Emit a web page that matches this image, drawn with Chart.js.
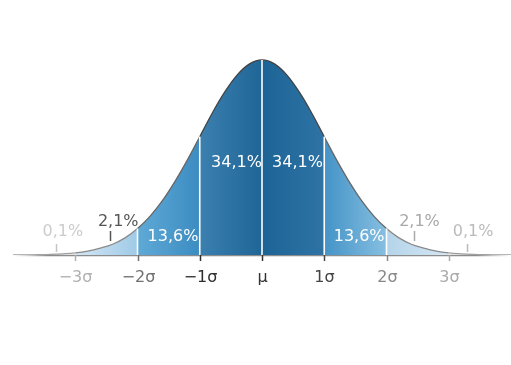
<!DOCTYPE html>
<html>
<head>
<meta charset="utf-8">
<script src="https://cdn.jsdelivr.net/npm/chart.js@4.4.1/dist/chart.umd.min.js"></script>
<style>
  html, body { margin: 0; padding: 0; background: #fff; }
</style>
</head>
<body>
<canvas id="bell" width="511" height="365"></canvas>
<script>
/* ── DATA ─────────────────────────────────────────────────── */
// x in units of sigma, curve height (density)
const sigmaX = [-4, -3.8, -3.6, -3.4, -3.2, -3, -2.8, -2.6, -2.4, -2.2, -2,
  -1.8, -1.6, -1.4, -1.2, -1, -0.8, -0.6, -0.4, -0.2, 0,
  0.2, 0.4, 0.6, 0.8, 1, 1.2, 1.4, 1.6, 1.8, 2,
  2.2, 2.4, 2.6, 2.8, 3, 3.2, 3.4, 3.6, 3.8, 4];
const density = [0.0001, 0.0003, 0.0006, 0.0012, 0.0024, 0.0044, 0.008, 0.014, 0.022, 0.035, 0.054,
  0.079, 0.111, 0.150, 0.194, 0.242, 0.290, 0.333, 0.368, 0.391, 0.399,
  0.391, 0.368, 0.333, 0.290, 0.242, 0.194, 0.150, 0.111, 0.079, 0.054,
  0.035, 0.022, 0.014, 0.008, 0.0044, 0.0024, 0.0012, 0.0006, 0.0003, 0.0001];

const dividers = [-2, -1, 0, 1, 2];
const tickValues = [-3, -2, -1, 0, 1, 2, 3];
const tickLabels = ['−3σ', '−2σ', '−1σ', 'μ', '1σ', '2σ', '3σ'];
const pctLabels = ['0,1%', '2,1%', '13,6%', '34,1%', '34,1%', '13,6%', '2,1%', '0,1%'];

/* ── LAYOUT / STYLE ───────────────────────────────────────── */
const FONT = '16px "DejaVu Sans", sans-serif';
const tickColors = ['#b0b0b0', '#707070', '#2e2e2e', '#333333', '#444444', '#888888', '#aaaaaa'];
const pctPos = [-3.2, -2.31, -1.43, -0.41, 0.57, 1.56, 2.53, 3.39];
const pctY = [232, 222, 237, 163, 163, 237, 222, 232];
const pctColors = ['#cccccc', '#555555', '#ffffff', '#ffffff', '#ffffff', '#ffffff', '#a8a8a8', '#bbbbbb'];
// little pointer marks under the outer labels: [sigma, y0, y1, colour]
const pointers = [
  [-3.31, 244, 252, '#c4c4c4'],
  [-2.44, 231, 241, '#555555'],
  [2.44, 231, 241, '#a8a8a8'],
  [3.29, 244, 252, '#bbbbbb']
];
// band fills: [colour at left edge, colour at right edge]
const bandStops = {
  '-3': ['#d4e6f3', '#9fcae7'],
  '-2': ['#5fa9d6', '#3c8cc2'],
  '-1': ['#3b80af', '#1f6596'],
  '0':  ['#1d6496', '#2e73a4'],
  '1':  ['#4493c7', '#86bfe1'],
  '2':  ['#b4d4ea', '#d6e7f3']
};
const bandLine = { '-3': '#8a8a8a', '-2': '#666', '-1': '#444', '0': '#444', '1': '#666', '2': '#8a8a8a' };

const gradCache = {};
function bandFill(chart, band) {
  const stops = bandStops[band];
  if (!stops) return 'rgba(0,0,0,0)';
  if (gradCache[band]) return gradCache[band];
  const xs = chart.scales.x;
  const g = chart.ctx.createLinearGradient(xs.getPixelForValue(band), 0, xs.getPixelForValue(band + 1), 0);
  g.addColorStop(0, stops[0]);
  g.addColorStop(1, stops[1]);
  gradCache[band] = g;
  return g;
}

function bandOf(ctx) {
  return Math.floor(ctx.p0.parsed.x + 1e-6);
}

function heightAt(x) {
  return density[sigmaX.indexOf(x)];
}

/* ── AXIS + LABELS PLUGIN ─────────────────────────────────── */
const sigmaAxis = {
  id: 'sigmaAxis',
  beforeDatasetsDraw(chart) {
    const { ctx, chartArea, scales } = chart;
    const y0 = Math.round(scales.y.getPixelForValue(0)) + 0.5;
    const g = ctx.createLinearGradient(chartArea.left, 0, chartArea.right, 0);
    g.addColorStop(0, 'rgba(150,150,150,0)');
    g.addColorStop(0.07, 'rgba(140,140,140,1)');
    g.addColorStop(0.93, 'rgba(140,140,140,1)');
    g.addColorStop(1, 'rgba(150,150,150,0)');
    ctx.save();
    ctx.strokeStyle = g;
    ctx.lineWidth = 1.6;
    ctx.beginPath();
    ctx.moveTo(chartArea.left, y0);
    ctx.lineTo(chartArea.right, y0);
    ctx.stroke();
    ctx.restore();
  },
  afterDatasetsDraw(chart) {
    const { ctx, scales } = chart;
    const xs = scales.x;
    const y0 = scales.y.getPixelForValue(0);
    ctx.save();
    ctx.font = FONT;
    ctx.textAlign = 'center';
    ctx.textBaseline = 'middle';
    ctx.lineWidth = 1.5;

    tickValues.forEach((v, i) => {
      const px = Math.round(xs.getPixelForValue(v)) + 0.5;
      ctx.strokeStyle = tickColors[i];
      ctx.beginPath();
      ctx.moveTo(px, y0);
      ctx.lineTo(px, y0 + 6);
      ctx.stroke();
      ctx.fillStyle = tickColors[i];
      ctx.fillText(tickLabels[i], px, y0 + 23);
    });

    pointers.forEach(([v, a, b, col]) => {
      const px = Math.round(xs.getPixelForValue(v)) + 0.5;
      ctx.strokeStyle = col;
      ctx.beginPath();
      ctx.moveTo(px, a);
      ctx.lineTo(px, b);
      ctx.stroke();
    });

    pctLabels.forEach((t, i) => {
      ctx.fillStyle = pctColors[i];
      ctx.fillText(t, xs.getPixelForValue(pctPos[i]), pctY[i]);
    });
    ctx.restore();
  }
};

/* ── CHART ────────────────────────────────────────────────── */
const curve = {
  data: sigmaX.map((x, i) => ({ x, y: density[i] })),
  fill: 'origin',
  backgroundColor: 'rgba(0,0,0,0)',
  borderColor: '#555',
  borderWidth: 1.3,
  tension: 0.4,
  pointRadius: 0,
  order: 2,
  segment: {
    backgroundColor: ctx => bandFill(ctx.chart, bandOf(ctx)),
    borderColor: ctx => bandLine[bandOf(ctx)] || '#a0a0a0'
  }
};

const dividerSets = dividers.map(x => ({
  data: [{ x, y: 0 }, { x, y: heightAt(x) }],
  borderColor: '#ffffff',
  borderWidth: 1.6,
  pointRadius: 0,
  fill: false,
  order: 1
}));

new Chart(document.getElementById('bell'), {
  type: 'line',
  data: { datasets: [curve, ...dividerSets] },
  options: {
    responsive: false,
    animation: false,
    layout: { padding: { left: 13, right: 0, top: 35, bottom: 110 } },
    plugins: { legend: { display: false }, tooltip: { enabled: false } },
    scales: {
      x: { type: 'linear', min: -4, max: 4, display: false },
      y: { min: 0, max: 0.45, display: false }
    }
  },
  plugins: [sigmaAxis]
});
</script>
</body>
</html>
